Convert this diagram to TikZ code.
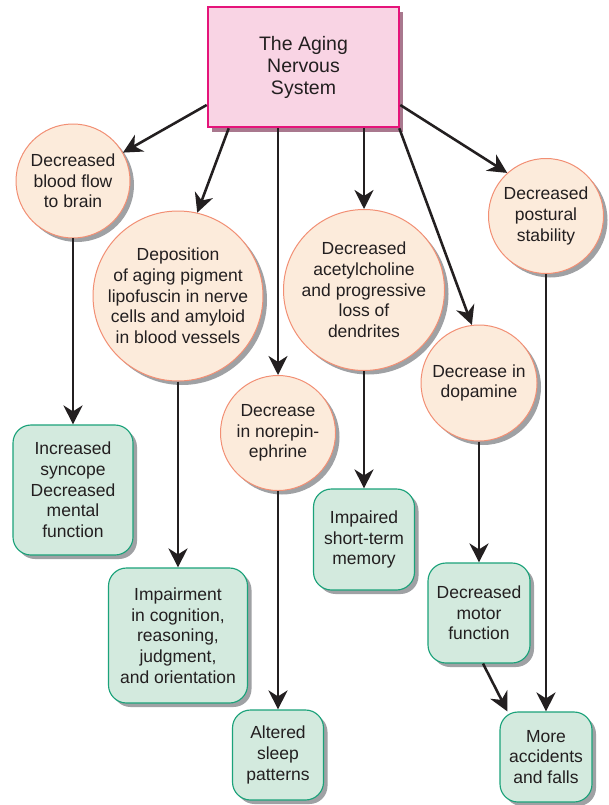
\documentclass[tikz,border=0pt]{standalone}
\usepackage{fontspec}
\setmainfont{Liberation Sans}
\usetikzlibrary{arrows.meta,shadows,positioning}
\definecolor{agInk}{HTML}{231F20}
\definecolor{agRose}{HTML}{E5147A}
\definecolor{agBlush}{HTML}{F9D4E4}
\definecolor{agRoseShadow}{HTML}{A9788E}
\definecolor{agSalmon}{HTML}{F28F74}
\definecolor{agCream}{HTML}{FCEBDB}
\definecolor{agTeal}{HTML}{1BA27A}
\definecolor{agMint}{HTML}{D3EADE}
\definecolor{agShadow}{HTML}{9FA1A4}
\tikzset{
  ag title/.style={
    rectangle, draw=agRose, fill=agBlush, line width=.9mm,
    minimum width=191pt, minimum height=120pt, inner sep=0pt,
    align=center, text=agInk, font=\fontsize{19.5}{22}\selectfont,
    drop shadow={shadow xshift=4pt, shadow yshift=-5pt, fill=agRoseShadow, opacity=1}
  },
  ag cause/.style={
    circle, draw=agSalmon, fill=agCream, line width=.35mm,
    inner sep=-2pt, align=center, text=agInk,
    font=\fontsize{17.5}{20.7}\selectfont,
    drop shadow={shadow xshift=4pt, shadow yshift=-4pt, fill=agShadow, opacity=1}
  },
  ag effect/.style={
    rectangle, rounded corners=18pt, draw=agTeal, fill=agMint, line width=.4mm,
    inner sep=0pt, align=center, text=agInk,
    font=\fontsize{17.5}{20.7}\selectfont,
    drop shadow={shadow xshift=4pt, shadow yshift=-4pt, fill=agShadow, opacity=1}
  },
  ag arrow/.style={
    draw=agInk, line width=.9mm,
    -{Stealth[length=19pt,width=19pt,inset=6pt]}
  }
}
\begin{document}
\begin{tikzpicture}[x=1pt,y=-1pt]
  \useasboundingbox[fill=white] (0,0) rectangle (608,805);

  \node[ag title] (aging) at (303.5,67) {The Aging\\Nervous\\System};

  \node[ag cause, minimum size=114pt] (bloodflow) at (73,181) {Decreased\\blood flow\\to brain};
  \node[ag cause, minimum size=170pt] (lipofuscin) at (178,296) {Deposition\\of aging pigment\\lipofuscin in nerve\\cells and amyloid\\in blood vessels};
  \node[ag cause, minimum size=115pt] (norepi) at (278,433) {Decrease\\in norepin-\\ephrine};
  \node[ag cause, minimum size=161pt] (acetyl) at (364,290) {Decreased\\acetylcholine\\and progressive\\loss of\\dendrites};
  \node[ag cause, minimum size=116pt] (dopamine) at (479,383) {Decrease in\\dopamine};
  \node[ag cause, minimum size=115pt] (postural) at (546,216) {Decreased\\postural\\stability};

  \node[ag effect, minimum width=120pt, minimum height=130pt] (syncope) at (73,490) {Increased\\syncope\\Decreased\\mental\\function};
  \node[ag effect, minimum width=139pt, minimum height=135pt] (cognition) at (178,635.5) {Impairment\\in cognition,\\reasoning,\\judgment,\\and orientation};
  \node[ag effect, minimum width=91pt, minimum height=90pt] (sleep) at (278,755) {Altered\\sleep\\patterns};
  \node[ag effect, minimum width=101pt, minimum height=101pt] (memory) at (364,539.5) {Impaired\\short-term\\memory};
  \node[ag effect, minimum width=102pt, minimum height=100pt] (motor) at (479,613) {Decreased\\motor\\function};
  \node[ag effect, minimum width=92pt, minimum height=90pt] (accidents) at (546,757) {More\\accidents\\and falls};

  \draw[ag arrow] ([yshift=-38pt]aging.west) -- (bloodflow);
  \draw[ag arrow] ([xshift=22pt]aging.south west) -- (lipofuscin.77);
  \draw[ag arrow] (aging.south -| norepi) -- (norepi);
  \draw[ag arrow] (aging.south -| acetyl) -- (acetyl);
  \draw[ag arrow] ([xshift=-1pt]aging.south east) -- (dopamine.97);
  \draw[ag arrow] ([yshift=-38pt]aging.east) -- (postural.132);

  \draw[ag arrow] (bloodflow) -- (syncope);
  \draw[ag arrow] (lipofuscin) -- (cognition);
  \draw[ag arrow] (norepi) -- (sleep);
  \draw[ag arrow] (acetyl) -- (memory);
  \draw[ag arrow] (dopamine) -- (motor);
  \draw[ag arrow] ([xshift=4pt]motor.south) -- ([xshift=8pt]accidents.north west);
  \draw[ag arrow] (postural) -- (accidents);
\end{tikzpicture}
\end{document}
